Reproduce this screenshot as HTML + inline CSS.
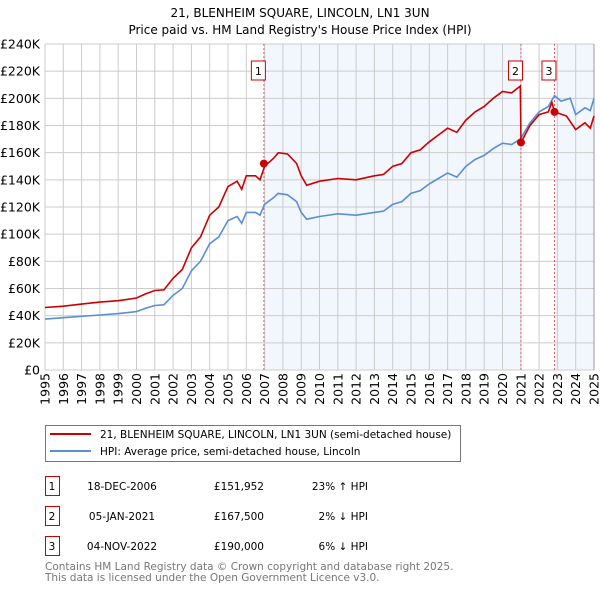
<!DOCTYPE html>
<html><head><meta charset="utf-8"><style>
body{margin:0;background:#fff;}
svg{display:block;font-family:"DejaVu Sans","Liberation Sans",sans-serif;}
</style></head><body>
<svg id="c" width="600" height="590" viewBox="0 0 600 590">
<text x="300" y="17" font-size="12" text-anchor="middle" fill="#000">21, BLENHEIM SQUARE, LINCOLN, LN1 3UN</text>
<text x="300" y="34" font-size="12" text-anchor="middle" fill="#000">Price paid vs. HM Land Registry's House Price Index (HPI)</text>
<g id="plot"></g>
<rect x="45.5" y="425.5" width="415" height="36" fill="#fff" stroke="#777"/>
<line x1="50" y1="434" x2="91" y2="434" stroke="#cc0000" stroke-width="2"/>
<text x="100" y="438" font-size="10.5">21, BLENHEIM SQUARE, LINCOLN, LN1 3UN (semi-detached house)</text>
<line x1="50" y1="451" x2="91" y2="451" stroke="#5b8fd4" stroke-width="2"/>
<text x="100" y="455" font-size="10.5">HPI: Average price, semi-detached house, Lincoln</text>
<g id="table" font-size="10.5"></g>
<text x="45" y="570" font-size="10.5" fill="#777">Contains HM Land Registry data © Crown copyright and database right 2025.</text>
<text x="45" y="581" font-size="10.5" fill="#777">This data is licensed under the Open Government Licence v3.0.</text>
</svg>
<script>
const hpiYears=[1995,1996,1997,1998,1999,2000,2000.5,2001,2001.5,2002,2002.5,2003,2003.5,2004,2004.5,2005,2005.5,2005.75,2006,2006.5,2006.75,2007,2007.5,2007.75,2008.25,2008.75,2009,2009.3,2010,2011,2012,2013,2013.5,2014,2014.5,2015,2015.5,2016,2016.5,2017,2017.5,2018,2018.5,2019,2019.5,2020,2020.5,2020.97,2021.5,2022,2022.5,2022.84,2023.2,2023.7,2024,2024.5,2024.8,2025];
const hpiValues=[37.5,38.5,39.5,40.5,41.5,43,45.5,47.5,48,55,60,73,80,93,98,110,113,108,116,116,114,122,127,130,129,124,116,111,113,115,114,116,117,122,124,130,132,137,141,145,142,150,155,158,163,167,166,170,182,190,194,202,198,200,188,193,191,200];
const redYears=[1995,1996,1997,1998,1999,2000,2000.5,2001,2001.5,2002,2002.5,2003,2003.5,2004,2004.5,2005,2005.5,2005.75,2006,2006.5,2006.75,2007,2007.5,2007.75,2008.25,2008.75,2009,2009.3,2010,2011,2012,2013,2013.5,2014,2014.5,2015,2015.5,2016,2016.5,2017,2017.5,2018,2018.5,2019,2019.5,2020,2020.5,2020.97,2021.01,2021.5,2022,2022.5,2022.7,2022.84,2023.5,2024,2024.5,2024.8,2025];
const redValues=[46,47,48.5,50,51,53,56,58.5,59,67.5,74,90,98,114,120,135,139,133,143,143,140,150,156,160,159,152,143,136,139,141,140,143,144,150,152,160,162,168,173,178,175,184,190,194,200,205,204,209,167.5,180,188,190,197,190,187,177,182,178,187];
const saleYears=[2006.96,2021.01,2022.84];
const salePrices=[151.952,167.5,190];
const saleLabels=["1","2","3"];
const saleDates=["18-DEC-2006","05-JAN-2021","04-NOV-2022"];
const salePriceText=["£151,952","£167,500","£190,000"];
const saleHpiText=["23% ↑ HPI","2% ↓ HPI","6% ↓ HPI"];
const yTicks=[0,20,40,60,80,100,120,140,160,180,200,220,240];
const xTicks=[1995,1996,1997,1998,1999,2000,2001,2002,2003,2004,2005,2006,2007,2008,2009,2010,2011,2012,2013,2014,2015,2016,2017,2018,2019,2020,2021,2022,2023,2024,2025];

const X0=45,X1=594,Y0=370,Y1=44;
const xs=y=>X0+(y-1995)/30*(X1-X0);
const ys=v=>Y0-v/240*(Y0-Y1);
const NS="http://www.w3.org/2000/svg";
const plot=document.getElementById('plot');
function mk(tag,at,parent){const e=document.createElementNS(NS,tag);for(const k in at)e.setAttribute(k,at[k]);(parent||plot).appendChild(e);return e;}
let sh=mk('rect',{x:xs(saleYears[0]),y:Y1,width:xs(saleYears[1])-xs(saleYears[0]),height:Y0-Y1,fill:'#f2f6fd'});


sh=mk('rect',{x:xs(saleYears[2]),y:Y1,width:X1-xs(saleYears[2]),height:Y0-Y1,fill:'#f2f6fd'});


yTicks.forEach(t=>{
 const l=mk('line',{x1:X0,x2:X1,y1:ys(t),y2:ys(t),stroke:'#ccc','stroke-width':1});
 
 
 const tx=mk('text',{x:40,y:ys(t)+4.5,'font-size':12.5,'text-anchor':'end'});tx.textContent='£'+t+(t?'K':'');
 
 
});
xTicks.forEach(t=>{
 const l=mk('line',{x1:xs(t),x2:xs(t),y1:Y1,y2:Y0,stroke:'#ccc','stroke-width':1});
 
 
 const tx=mk('text',{x:0,y:0,'font-size':12.5,'text-anchor':'end',transform:`translate(${xs(t)+4.5},373) rotate(-90)`});tx.textContent=t;
 
 
});
let ax=mk('line',{x1:X1,x2:X1,y1:Y1,y2:Y0,stroke:'#999','stroke-width':1});


saleYears.forEach((y,i)=>{
 const l=mk('line',{x1:xs(y),x2:xs(y),y1:Y1,y2:Y0,stroke:'#e06070','stroke-width':1,'stroke-dasharray':'2,2'});
 
 
 const b=mk('rect',{x:xs(y)-12.5,y:61,width:14,height:19,fill:'#fff',stroke:'#cc0000'});
 
 
 const t=mk('text',{x:xs(y)-5.5,y:75,'font-size':11,'text-anchor':'middle'});t.textContent=saleLabels[i];
 
 
});
const line=(yr,v,c,n)=>{const p=mk('polyline',{points:yr.map((y,i)=>xs(y).toFixed(1)+','+ys(v[i]).toFixed(1)).join(' '),fill:'none',stroke:c,'stroke-width':1.6});
 
 };
line(hpiYears,hpiValues,'#5b8fd4','hpi-line');
line(redYears,redValues,'#cc0000','price-paid-line');
saleYears.forEach((y,i)=>{
 const c=mk('circle',{cx:xs(y),cy:ys(salePrices[i]),r:4,fill:'#cc0000'});
 
 
});
const tb=document.getElementById('table');
saleLabels.forEach((s,i)=>{
 const cy=486+i*30;
 const b=mk('rect',{x:45.5,y:cy-9.5,width:14,height:19,fill:'#fff',stroke:'#cc0000'},tb);
 
 
 const cells=[[52,'middle',s],[122,'middle',saleDates[i]],[264,'end',salePriceText[i]],[368,'end',saleHpiText[i]]];
 cells.forEach((c,j)=>{const t=mk('text',{x:c[0],y:cy+4,'text-anchor':c[1]},tb);t.textContent=c[2];
  
  });
});
</script>
</body></html>
